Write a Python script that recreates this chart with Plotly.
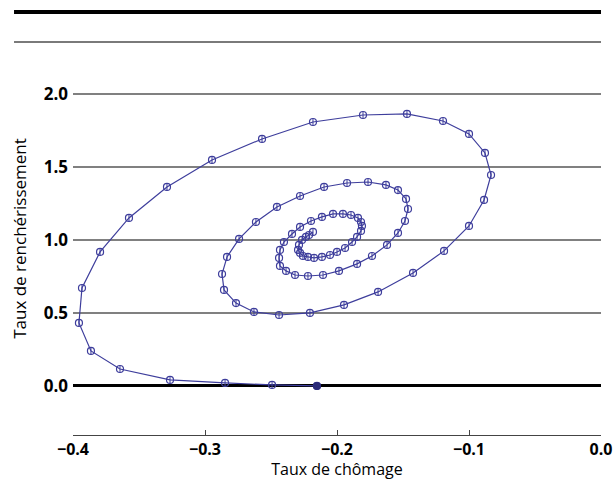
import plotly.graph_objects as go

# Spiral trajectory: unemployment rate (x) vs inflation rate (y)
taux_chomage = [
    -0.2152, -0.2492, -0.2848, -0.3265, -0.3644, -0.3864, -0.3955, -0.3932, -0.3795, -0.3576,
    -0.3288, -0.2947, -0.2568, -0.2182, -0.1803, -0.1470, -0.1197, -0.1000, -0.0879, -0.0833,
    -0.0886, -0.1000, -0.1189, -0.1424, -0.1689, -0.1947, -0.2205, -0.2439, -0.2629, -0.2765,
    -0.2856, -0.2871, -0.2833, -0.2742, -0.2614, -0.2455, -0.2280, -0.2098, -0.1924, -0.1765,
    -0.1629, -0.1538, -0.1477, -0.1462, -0.1485, -0.1538, -0.1621, -0.1735, -0.1848, -0.1985,
    -0.2106, -0.2220, -0.2318, -0.2386, -0.2432, -0.2439, -0.2432, -0.2402, -0.2341, -0.2280,
    -0.2197, -0.2114, -0.2030, -0.1955, -0.1894, -0.1841, -0.1818, -0.1811, -0.1818, -0.1848,
    -0.1886, -0.1939, -0.2000, -0.2053, -0.2114, -0.2174, -0.2220, -0.2258, -0.2280, -0.2295,
    -0.2288, -0.2265, -0.2235, -0.2212, -0.2182,
]
taux_rencherissement = [
    0.000, 0.007, 0.021, 0.041, 0.116, 0.240, 0.432, 0.671, 0.918, 1.151,
    1.363, 1.548, 1.692, 1.808, 1.856, 1.863, 1.815, 1.726, 1.596, 1.445,
    1.274, 1.096, 0.925, 0.774, 0.644, 0.555, 0.500, 0.486, 0.507, 0.568,
    0.658, 0.767, 0.884, 1.007, 1.123, 1.226, 1.301, 1.363, 1.390, 1.397,
    1.377, 1.342, 1.281, 1.212, 1.130, 1.048, 0.966, 0.890, 0.836, 0.788,
    0.760, 0.753, 0.760, 0.788, 0.822, 0.877, 0.932, 0.986, 1.041, 1.089,
    1.130, 1.158, 1.178, 1.178, 1.171, 1.151, 1.123, 1.096, 1.062, 1.021,
    0.986, 0.945, 0.918, 0.897, 0.884, 0.877, 0.884, 0.890, 0.911, 0.932,
    0.966, 1.000, 1.021, 1.034, 1.055,
]

x_ticks = [-0.4, -0.3, -0.2, -0.1, 0.0]
y_ticks = [0.0, 0.5, 1.0, 1.5, 2.0]

LINE_COLOR = "#3e3e9c"

fig = go.Figure()
fig.add_trace(go.Scatter(
    x=taux_chomage, y=taux_rencherissement, mode="lines+markers",
    line=dict(color=LINE_COLOR, width=1.2),
    marker=dict(symbol="circle-open", size=7, color=LINE_COLOR, line=dict(width=1.2)),
    hoverinfo="skip",
))
fig.add_trace(go.Scatter(
    x=taux_chomage, y=taux_rencherissement, mode="markers",
    marker=dict(symbol="line-ns-open", size=5, color=LINE_COLOR, line=dict(width=1, color=LINE_COLOR)),
    hoverinfo="skip",
))
fig.add_trace(go.Scatter(
    x=taux_chomage[:1], y=taux_rencherissement[:1], mode="markers",
    marker=dict(symbol="circle", size=8, color="#2a2a78"),
    hoverinfo="skip",
))

x_tick_font = dict(family="Open Sans", size=16, weight="bold", color="black")
y_tick_font = dict(family="Open Sans", size=17, weight="bold", color="black")
x_title_font = dict(family="Open Sans", size=16, color="black")
y_title_font = dict(family="Open Sans", size=17, color="black")

fig.update_layout(
    width=615, height=480,
    margin=dict(l=73, r=14, t=42, b=45, autoexpand=False),
    plot_bgcolor="white", paper_bgcolor="white",
    showlegend=False,
    xaxis=dict(
        range=[-0.4, 0.0], tickvals=x_ticks, tickformat=".1f",
        showgrid=False, zeroline=False, automargin=False,
        showline=True, linecolor="#444", linewidth=1,
        ticks="inside", ticklen=5, tickcolor="#444", tickwidth=1,
        tickfont=x_tick_font, ticklabelstandoff=0,
        title=dict(text="Taux de chômage", font=x_title_font, standoff=4),
    ),
    yaxis=dict(
        range=[-0.336, 2.356], tickvals=y_ticks, tickformat=".1f",
        showgrid=True, gridcolor="#808080", gridwidth=2,
        zeroline=True, zerolinecolor="black", zerolinewidth=3,
        showline=False, ticks="", automargin=False,
        tickfont=y_tick_font, ticklabelstandoff=4,
        title=dict(text="Taux de renchérissement", font=y_title_font, standoff=12),
    ),
    shapes=[
        dict(type="line", xref="paper", yref="paper", x0=-0.1117, x1=1.0, y0=1.0763, y1=1.0763,
             line=dict(color="black", width=4)),
        dict(type="line", xref="paper", yref="paper", x0=-0.1117, x1=1.0, y0=1.0, y1=1.0,
             line=dict(color="#7a7a7a", width=2)),
    ],
)

fig.write_html("out.html")
